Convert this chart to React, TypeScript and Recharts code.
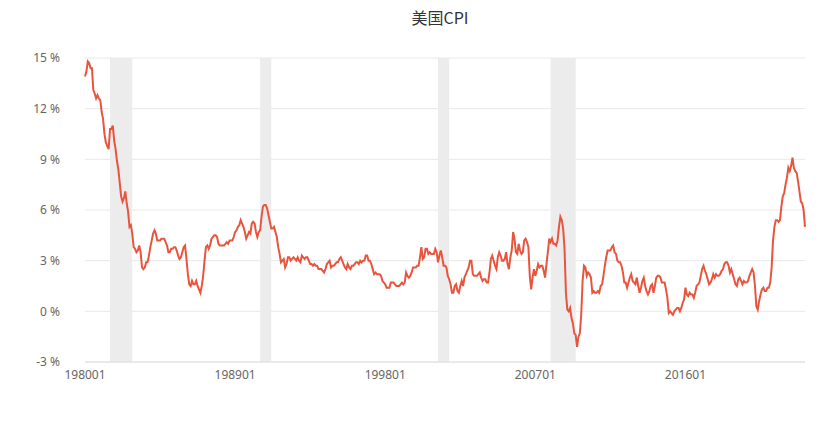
import React from "react";
import {
  LineChart,
  Line,
  XAxis,
  YAxis,
  CartesianGrid,
  ReferenceArea,
} from "recharts";

const START_YEAR = 1980;

const cpi1980s: number[] = [
  13.9, 14.2, 14.8, 14.7, 14.4, 14.4, 13.1, 12.9, 12.6, 12.8, 12.6, 12.5,
  11.8, 11.4, 10.5, 10.0, 9.8, 9.6, 10.8, 10.8, 11.0, 10.1, 9.6, 8.9,
  8.4, 7.6, 6.8, 6.5, 6.7, 7.1, 6.4, 5.9, 5.0, 5.1, 4.6, 3.8,
  3.7, 3.5, 3.6, 3.9, 3.5, 2.6, 2.5, 2.6, 2.9, 2.9, 3.3, 3.8,
  4.2, 4.6, 4.8, 4.6, 4.2, 4.2, 4.2, 4.3, 4.3, 4.3, 4.1, 3.9,
  3.5, 3.5, 3.7, 3.7, 3.8, 3.8, 3.6, 3.3, 3.1, 3.2, 3.5, 3.8,
  3.9, 3.1, 2.2, 1.6, 1.5, 1.8, 1.6, 1.6, 1.8, 1.5, 1.3, 1.1,
  1.5, 2.1, 3.0, 3.8, 3.9, 3.7, 3.9, 4.3, 4.4, 4.5, 4.5, 4.4,
  4.0, 3.9, 3.9, 3.9, 3.9, 4.0, 4.1, 4.0, 4.2, 4.2, 4.2, 4.4,
  4.7, 4.8, 5.0, 5.1, 5.4, 5.2, 5.0, 4.7, 4.3, 4.5, 4.7, 4.6,
];

const cpi1990s: number[] = [
  5.2, 5.3, 5.2, 4.7, 4.4, 4.7, 4.8, 5.6, 6.2, 6.3, 6.3, 6.1,
  5.7, 5.3, 4.9, 4.9, 5.0, 4.7, 4.4, 3.8, 3.4, 2.9, 3.0, 3.1,
  2.6, 2.8, 3.2, 3.2, 3.0, 3.1, 3.2, 3.1, 3.0, 3.2, 3.0, 2.9,
  3.3, 3.2, 3.1, 3.2, 3.2, 3.0, 2.8, 2.8, 2.7, 2.8, 2.7, 2.7,
  2.5, 2.5, 2.5, 2.4, 2.3, 2.5, 2.8, 2.9, 3.0, 2.6, 2.7, 2.7,
  2.8, 2.9, 2.9, 3.1, 3.2, 3.0, 2.8, 2.6, 2.5, 2.8, 2.6, 2.5,
  2.7, 2.7, 2.8, 2.9, 2.9, 2.8, 3.0, 2.9, 3.0, 3.0, 3.3, 3.3,
  3.0, 3.0, 2.8, 2.5, 2.2, 2.3, 2.2, 2.2, 2.2, 2.1, 1.8, 1.7,
  1.6, 1.4, 1.4, 1.4, 1.7, 1.7, 1.7, 1.6, 1.5, 1.5, 1.5, 1.6,
  1.7, 1.6, 1.7, 2.3, 2.1, 2.0, 2.1, 2.3, 2.6, 2.6, 2.6, 2.7,
];

const cpi2000s: number[] = [
  2.7, 3.2, 3.8, 3.1, 3.2, 3.7, 3.7, 3.4, 3.5, 3.4, 3.4, 3.4,
  3.7, 3.5, 2.9, 3.3, 3.6, 3.2, 2.7, 2.7, 2.6, 2.1, 1.9, 1.6,
  1.1, 1.1, 1.5, 1.6, 1.2, 1.1, 1.5, 1.8, 1.5, 2.0, 2.2, 2.4,
  2.6, 3.0, 3.0, 2.2, 2.1, 2.1, 2.1, 2.2, 2.3, 2.0, 1.8, 1.9,
  1.9, 1.7, 1.7, 2.3, 3.1, 3.3, 3.0, 2.7, 2.5, 3.2, 3.5, 3.3,
  3.0, 3.0, 3.1, 3.5, 2.8, 2.5, 3.2, 3.6, 4.7, 4.3, 3.5, 3.4,
  4.0, 3.6, 3.4, 3.5, 4.2, 4.3, 4.1, 3.8, 2.1, 1.3, 2.0, 2.5,
  2.1, 2.4, 2.8, 2.6, 2.7, 2.7, 2.4, 2.0, 2.8, 3.5, 4.3, 4.1,
  4.3, 4.0, 4.0, 3.9, 4.2, 5.0, 5.6, 5.4, 4.9, 3.7, 1.1, 0.1,
  0.0, 0.2, -0.4, -0.7, -1.3, -1.4, -2.1, -1.5, -1.3, -0.2, 1.8, 2.7,
];

const cpi2010s: number[] = [
  2.6, 2.1, 2.3, 2.2, 2.0, 1.1, 1.2, 1.1, 1.1, 1.2, 1.1, 1.5,
  1.6, 2.1, 2.7, 3.2, 3.6, 3.6, 3.6, 3.8, 3.9, 3.5, 3.4, 3.0,
  2.9, 2.9, 2.7, 2.3, 1.7, 1.7, 1.4, 1.7, 2.0, 2.2, 1.8, 1.7,
  1.6, 2.0, 1.5, 1.1, 1.4, 1.8, 2.0, 1.5, 1.2, 1.0, 1.2, 1.5,
  1.6, 1.1, 1.5, 2.0, 2.1, 2.1, 2.0, 1.7, 1.7, 1.7, 1.3, 0.8,
  -0.1, 0.0, -0.1, -0.2, 0.0, 0.1, 0.2, 0.2, 0.0, 0.2, 0.5, 0.7,
  1.4, 1.0, 0.9, 1.1, 1.0, 1.0, 0.8, 1.1, 1.5, 1.6, 1.7, 2.1,
  2.5, 2.7, 2.4, 2.2, 1.9, 1.6, 1.7, 1.9, 2.2, 2.0, 2.2, 2.1,
  2.1, 2.2, 2.4, 2.5, 2.8, 2.9, 2.9, 2.7, 2.3, 2.5, 2.2, 1.9,
  1.6, 1.5, 1.9, 2.0, 1.8, 1.6, 1.8, 1.7, 1.7, 1.8, 2.1, 2.3,
];

const cpi2020s: number[] = [
  2.5, 2.3, 1.5, 0.3, 0.1, 0.6, 1.0, 1.3, 1.4, 1.2, 1.2, 1.4,
  1.4, 1.7, 2.6, 4.2, 5.0, 5.4, 5.4, 5.3, 5.4, 6.2, 6.8, 7.0,
  7.5, 7.9, 8.5, 8.3, 8.6, 9.1, 8.5, 8.3, 8.2, 7.7, 7.1, 6.5,
  6.4, 6.0, 5.0,
];

const yTicks: number[] = [-3, 0, 3, 6, 9, 12, 15];

const recessions: [string, string][] = [
  ["198107", "198211"],
  ["199007", "199103"],
  ["200103", "200111"],
  ["200712", "200906"],
];

const allValues = [...cpi1980s, ...cpi1990s, ...cpi2000s, ...cpi2010s, ...cpi2020s];

const data = allValues.map((v, i) => {
  const y = START_YEAR + Math.floor(i / 12);
  const m = (i % 12) + 1;
  return { date: `${y}${m < 10 ? "0" + m : m}`, cpi: v };
});

const tickStyle = { fill: "#666", fontSize: 12, fontFamily: "'Noto Sans', 'Noto Sans CJK SC', sans-serif" };

export default function App() {
  return (
    <div style={{ position: "absolute", left: 0, top: 0, width: 823, height: 425, background: "#fff" }}>
      <div
        style={{
          position: "absolute",
          left: 0,
          top: 5,
          width: 880,
          textAlign: "center",
          fontSize: 16,
          color: "#333",
          fontFamily: "'Noto Sans CJK SC', sans-serif",
          lineHeight: "24px",
        }}
      >
        美国CPI
      </div>
      <LineChart
        width={823}
        height={425}
        data={data}
        margin={{ top: 58, right: 18, bottom: 33, left: 0 }}
      >
        <CartesianGrid vertical={false} stroke="#e8e8e8" />
        {recessions.map(([a, b]) => (
          <ReferenceArea key={a} x1={a} x2={b} fill="#ececec" fillOpacity={1} stroke="none" />
        ))}
        <XAxis
          dataKey="date"
          interval={107}
          height={30}
          tickLine={false}
          tickSize={0}
          tickMargin={8}
          axisLine={{ stroke: "#e0e0e0" }}
          tick={tickStyle}
        />
        <YAxis
          width={85}
          domain={[-3, 15]}
          ticks={yTicks}
          tickLine={false}
          axisLine={false}
          tickSize={0}
          tickMargin={25}
          tickFormatter={(v: number) => `${v} %`}
          tick={tickStyle}
        />
        <Line
          type="linear"
          dataKey="cpi"
          stroke="#e8553e"
          strokeWidth={2}
          dot={false}
          isAnimationActive={false}
        />
      </LineChart>
    </div>
  );
}
